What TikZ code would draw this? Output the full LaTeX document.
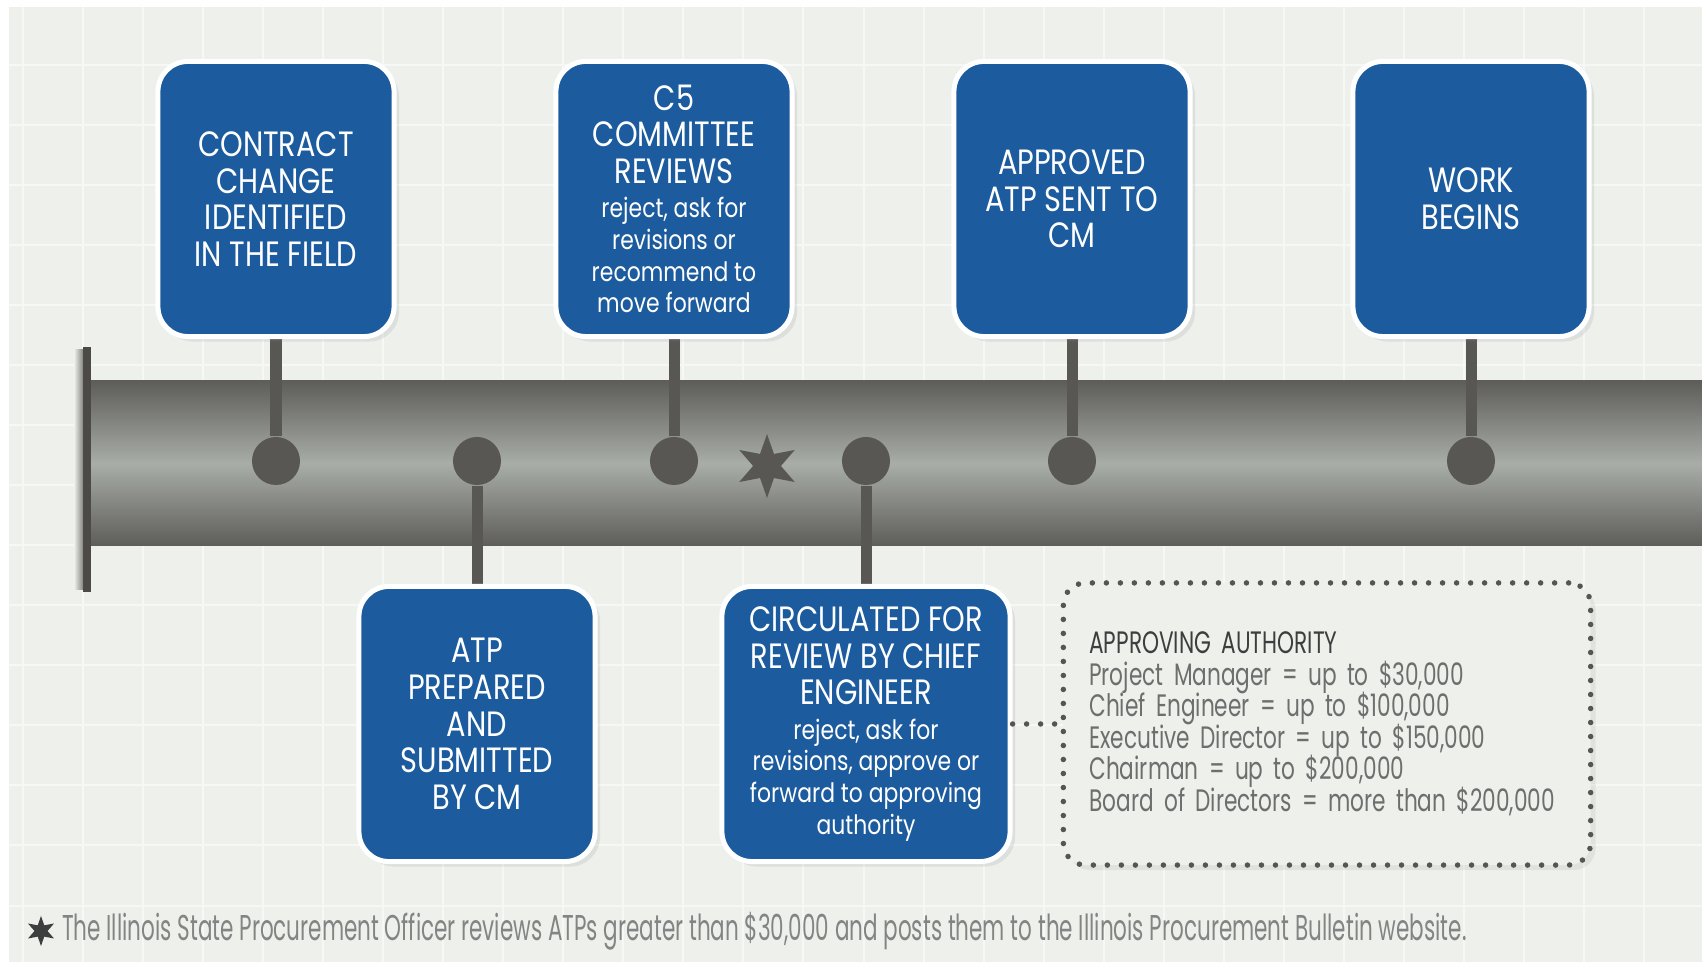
\documentclass[tikz,border=0pt]{standalone}
\usepackage{fontspec}
\setmainfont{Poppins}[FakeStretch=0.82]
\newfontfamily\authfont{Poppins}[FakeStretch=0.7]
\newfontfamily\notefont{Poppins}[FakeStretch=0.6]
\usetikzlibrary{positioning, shapes.geometric, shadows, backgrounds}

\definecolor{bggreen}{HTML}{EDF0EB}
\definecolor{boxblue}{HTML}{1C5C9E}
\definecolor{stemgrey}{HTML}{595754}
\definecolor{bardark}{HTML}{5E5D59}
\definecolor{barlight}{HTML}{A8ADA7}
\definecolor{dotgrey}{HTML}{555555}
\definecolor{authdark}{HTML}{3E3E3E}
\definecolor{authgrey}{HTML}{6E6E6E}

\newcommand{\capstext}{\fontsize{10}{10.4}\selectfont}
\newcommand{\lowtext}{\fontsize{7.6}{8.9}\selectfont}
\newcommand{\authtext}{\authfont\fontsize{8.8}{8.95}\selectfont\lineskiplimit=-1cm}

\tikzset{
  stepbox/.style={rectangle, rounded corners=0.3cm, fill=boxblue, draw=white,
    line width=0.05cm, minimum width=2.36cm, minimum height=2.75cm, inner sep=0pt,
    text=white, align=center, font=\capstext,
    drop shadow={opacity=0.15, shadow xshift=0.05cm, shadow yshift=-0.05cm}},
  knob/.style={circle, fill=stemgrey, minimum size=0.48cm, inner sep=0pt},
  stem/.style={stemgrey, line width=0.11cm},
  dotline/.style={draw=dotgrey, line width=0.055cm, line cap=round, dash pattern=on 0pt off 0.14cm},
  authbox/.style={rectangle, rounded corners=0.22cm, dotline, fill=bggreen,
    minimum width=5.27cm, minimum height=2.82cm, inner xsep=0.26cm,
    text width=4.75cm, align=left, text=authgrey, font=\authtext,
    drop shadow={opacity=0.12, shadow xshift=0.05cm, shadow yshift=-0.05cm}},
  starmark/.style={star, star points=6, star point ratio=2.3, fill=stemgrey, inner sep=0pt},
  gridline/.style={white, opacity=0.55, line width=0.02cm}
}

\begin{document}
\begin{tikzpicture}[x=0.01cm, y=-0.01cm]
    \useasboundingbox (0,0) rectangle (1702,962);

    % Steps above the bar
    \node[stepbox] (change) at (276,199) {CONTRACT\\CHANGE\\IDENTIFIED\\IN THE FIELD};
    \node[stepbox] (committee) at (674,199) {C5\\COMMITTEE\\REVIEWS\\[-0.6pt]\lowtext reject, ask for\\[-1.4pt]\lowtext revisions or\\[-1.4pt]\lowtext recommend to\\[-1.4pt]\lowtext move forward};
    \node[stepbox] (approved) at (1072,199) {APPROVED\\ATP SENT TO\\CM};
    \node[stepbox] (begins) at (1471,199) {WORK\\BEGINS};

    % Steps below the bar
    \node[stepbox] (prepared) at (477,724) {ATP\\PREPARED\\AND\\SUBMITTED\\BY CM};
    \node[stepbox, minimum width=2.88cm] (circulated) at (866,724) {CIRCULATED FOR\\REVIEW BY CHIEF\\ENGINEER\\[-0.6pt]\lowtext reject, ask for\\[-1.4pt]\lowtext revisions, approve or\\[-1.4pt]\lowtext forward to approving\\[-1.4pt]\lowtext authority};

    % Knobs on the bar
    \node[knob] (k1) at (276,461) {};
    \node[knob] (k2) at (477,461) {};
    \node[knob] (k3) at (674,461) {};
    \node[knob] (k4) at (866,461) {};
    \node[knob] (k5) at (1072,461) {};
    \node[knob] (k6) at (1471,461) {};
    \node[starmark, minimum size=0.64cm] (review) at (767,466) {};

    % Approving authority
    \node[authbox] (auth) at (1327,724) {{\color{authdark}APPROVING AUTHORITY}\\
      Project Manager = up to \$30,000\\
      Chief Engineer = up to \$100,000\\
      Executive Director = up to \$150,000\\
      Chairman = up to \$200,000\\
      Board of Directors = more than \$200,000};
    \draw[dotline] (circulated.east) -- (auth.west);

    % Footnote
    \node[starmark, fill=authdark, minimum size=0.3cm] (footstar) at (41,931) {};
    \node[right=0.13cm of footstar, inner sep=0pt, text=authgrey!85, font=\notefont\fontsize{10.2}{10}\selectfont] (note)
      {The Illinois State Procurement Officer reviews ATPs greater than \$30,000 and posts them to the Illinois Procurement Bulletin website.};

    \begin{scope}[on background layer]
        % Paper and grid
        \fill[white] (0,0) rectangle (1702,962);
        \fill[bggreen] (9,7) rectangle (1702,962);
        \begin{scope}
            \clip (9,7) rectangle (1702,962);
            \draw[gridline, xshift=0.23cm, yshift=-0.05cm, step=0.6cm] (-60,-60) grid (1702,1020);
        \end{scope}

        % Timeline bar
        \shade[top color=bardark, bottom color=bardark, middle color=barlight] (91,381) rectangle (1702,546);
        \shade[left color=bggreen, right color=stemgrey!80] (74,350) rectangle (84,590);
        \fill[stemgrey!85!black] (83,347) rectangle (91,592);

        % Stems
        \draw[stem] (change.south) -- (k1);
        \draw[stem] (committee.south) -- (k3);
        \draw[stem] (approved.south) -- (k5);
        \draw[stem] (begins.south) -- (k6);
        \draw[stem] (prepared.north) -- (k2);
        \draw[stem] (circulated.north) -- (k4);
    \end{scope}
\end{tikzpicture}
\end{document}
